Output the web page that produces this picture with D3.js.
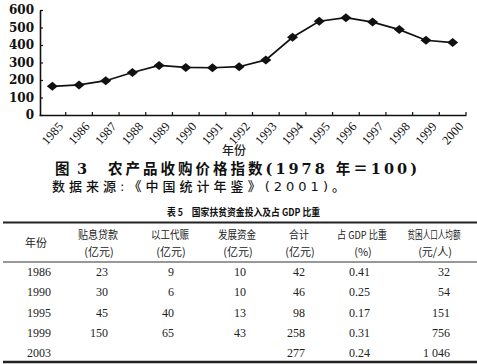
<!DOCTYPE html>
<html><head><meta charset="utf-8">
<script src="https://cdn.jsdelivr.net/npm/d3@7"></script>
<style>
html,body{margin:0;padding:0;background:#fff;}
svg{display:block;}
</style></head>
<body>
<svg id="c" width="477" height="364"></svg>
<script>
// ---- chart data ----
const years = ["1985","1986","1987","1988","1989","1990","1991","1992","1993","1994","1995","1996","1997","1998","1999","2000"];
const priceIndex = [164, 172, 196, 243, 283, 272, 270, 276, 315, 444, 536, 556, 531, 488, 427, 414];
const yTicks = [0, 100, 200, 300, 400, 500, 600];
const xTitle = "年份";
const captionLabel = "图 3";
const captionText = "农产品收购价格指数(1978 年＝100)";
const caption2 = "数据来源:《中国统计年鉴》(2001)。";

// ---- table data ----
const tableTitle = "表 5　国家扶贫资金投入及占 GDP 比重";
const headers1 = ["年份", "贴息贷款", "以工代赈", "发展资金", "合计", "占 GDP 比重", "贫困人口人均额"];
const headers2 = ["", "(亿元)", "(亿元)", "(亿元)", "(亿元)", "(%)", "(元/人)"];
const rowYears = ["1986", "1990", "1995", "1999", "2003"];
const subsidizedLoans = [23, 30, 45, 150, null];
const workForRelief = [9, 6, 40, 65, null];
const developmentFunds = [10, 10, 13, 43, null];
const totals = [42, 46, 98, 258, 277];
const gdpShare = ["0.41", "0.25", "0.17", "0.31", "0.24"];
const perCapita = ["32", "54", "151", "756", "1 046"];

const svg = d3.select("#c");
const serif = "'Liberation Serif','Noto Sans CJK SC',serif";
const cjk = "'Noto Sans CJK SC','Liberation Serif',sans-serif";

// ---- scales ----
const x = d3.scaleBand().domain(years).range([39, 466]);
const y = d3.scaleLinear().domain([0, 600]).range([115, 10]);

// y axis
const gy = svg.append("g").attr("transform", "translate(40,0)")
  .call(d3.axisLeft(y).tickValues(yTicks).tickSize(-3).tickPadding(6).tickSizeOuter(0));
gy.select(".domain").attr("stroke", "#111").attr("stroke-width", 1.6);
gy.selectAll(".tick line").attr("stroke", "#111").attr("stroke-width", 1.2);
gy.selectAll(".tick text").attr("font-family", "'DejaVu Serif',serif").attr("font-weight", "bold")
  .attr("font-size", 12).attr("fill", "#111");

// x axis
const gx = svg.append("g").attr("transform", "translate(0,115)")
  .call(d3.axisBottom(x).tickSize(0).tickSizeOuter(0).tickFormat(""));
gx.select(".domain").attr("stroke", "#111").attr("stroke-width", 1.6);
const bounds = years.map(d => x(d)).concat([x(years[years.length - 1]) + x.bandwidth()]);
gx.selectAll("line.bt").data(bounds.slice(1)).enter().append("line")
  .attr("x1", d => d).attr("x2", d => d).attr("y1", 0).attr("y2", -3)
  .attr("stroke", "#111").attr("stroke-width", 1.2);
svg.append("g").selectAll("text").data(years).enter().append("text")
  .attr("transform", d => `translate(${x(d) + x.bandwidth() / 2 + 5},121) rotate(-48)`)
  .attr("text-anchor", "end").attr("dy", "0.7em")
  .attr("font-family", serif).attr("font-size", 12.5).attr("fill", "#111")
  .text(d => d);

// line + markers
const pts = years.map((d, i) => [x(d) + x.bandwidth() / 2, y(priceIndex[i])]);
svg.append("path").attr("d", d3.line()(pts)).attr("fill", "none")
  .attr("stroke", "#111").attr("stroke-width", 1.7);
const diamond = { draw(ctx, size) { const w = 5.5, h = 4.5; ctx.moveTo(0, -h); ctx.lineTo(w, 0); ctx.lineTo(0, h); ctx.lineTo(-w, 0); ctx.closePath(); } };
svg.append("g").selectAll("path").data(pts).enter().append("path")
  .attr("transform", d => `translate(${d[0]},${d[1]})`)
  .attr("d", d3.symbol().type(diamond)()).attr("fill", "#111");

// x title and captions
svg.append("text").attr("x", 234).attr("y", 155).attr("text-anchor", "middle")
  .attr("font-family", cjk).attr("font-weight", 500).attr("font-size", 12).attr("fill", "#222").text(xTitle);
const capFont = "'DejaVu Serif','Noto Sans CJK SC',serif";
svg.append("text").attr("x", 55).attr("y", 174).attr("textLength", 32).attr("lengthAdjust", "spacing")
  .attr("font-family", capFont).attr("font-weight", "bold")
  .attr("font-size", 14.5).attr("fill", "#111").text(captionLabel);
svg.append("text").attr("x", 108).attr("y", 174).attr("textLength", 309).attr("lengthAdjust", "spacing")
  .attr("font-family", capFont).attr("font-weight", "bold")
  .attr("font-size", 14.5).attr("fill", "#111").text(captionText);
svg.append("text").attr("x", 52).attr("y", 191).attr("textLength", 293).attr("lengthAdjust", "spacing")
  .attr("font-family", "'DejaVu Sans','Noto Sans CJK SC',sans-serif").attr("font-weight", 500)
  .attr("font-size", 13).attr("fill", "#111").text(caption2);

// ---- table ----
svg.append("text").attr("x", 167).attr("y", 216).attr("textLength", 153).attr("lengthAdjust", "spacingAndGlyphs")
  .attr("font-family", cjk).attr("font-weight", "bold").attr("font-size", 10.5).attr("fill", "#111")
  .text(tableTitle);
svg.append("line").attr("x1", 3).attr("x2", 477).attr("y1", 222.5).attr("y2", 222.5)
  .attr("stroke", "#222").attr("stroke-width", 2);
svg.append("line").attr("x1", 3).attr("x2", 477).attr("y1", 262).attr("y2", 262)
  .attr("stroke", "#333").attr("stroke-width", 1.2);
svg.append("line").attr("x1", 3).attr("x2", 477).attr("y1", 362).attr("y2", 362)
  .attr("stroke", "#222").attr("stroke-width", 2.4);

const headCx = [36, 98, 170, 237, 299, 362, 434];
const headW = [null, 40, 38, 38, 20, 50, 53];
const rowScale = d3.scalePoint().domain(rowYears).range([272, 353]);
svg.append("text").attr("x", headCx[0]).attr("y", 247).attr("text-anchor", "middle")
  .attr("font-family", cjk).attr("font-size", 11).attr("fill", "#222").text(headers1[0]);
svg.append("g").selectAll("text").data(headers1.slice(1)).enter().append("text")
  .attr("text-anchor", "middle")
  .attr("font-family", cjk).attr("font-size", 11).attr("fill", "#222").text(d => d)
  .each(function (d, i) {
    const natural = this.getComputedTextLength();
    const sx = Math.min(1, headW[i + 1] / natural);
    d3.select(this).attr("transform", `translate(${headCx[i + 1]},239) scale(${sx},1)`);
  });
svg.append("g").selectAll("text").data(headers2.slice(1)).enter().append("text")
  .attr("x", (d, i) => headCx[i + 1] + 1).attr("y", 256).attr("text-anchor", "middle")
  .attr("font-family", cjk).attr("font-size", 11).attr("fill", "#222").text(d => d);

const cols = [
  { vals: rowYears, x: 27, anchor: "start" },
  { vals: subsidizedLoans, x: 108, anchor: "end" },
  { vals: workForRelief, x: 174, anchor: "end" },
  { vals: developmentFunds, x: 246, anchor: "end" },
  { vals: totals, x: 305, anchor: "end" },
  { vals: gdpShare, x: 370, anchor: "end" },
  { vals: perCapita, x: 450, anchor: "end" }
];
cols.forEach(c => {
  svg.append("g").selectAll("text").data(c.vals).enter().append("text")
    .attr("x", c.x).attr("y", (d, i) => rowScale(rowYears[i]) + 4)
    .attr("text-anchor", c.anchor).attr("font-family", serif).attr("font-size", 12)
    .attr("fill", "#222").text(d => d == null ? "" : d);
});
</script>
</body></html>
